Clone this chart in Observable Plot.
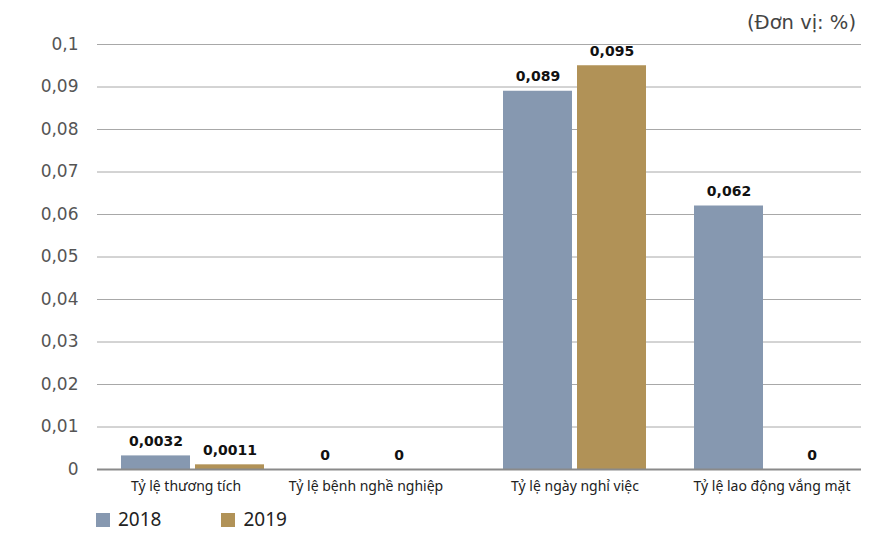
<!DOCTYPE html>
<html>
<head>
<meta charset="utf-8">
<script src="https://cdn.jsdelivr.net/npm/d3@7"></script>
<script src="https://cdn.jsdelivr.net/npm/@observablehq/plot@0.6"></script>
<style>
  body { margin: 0; background: #fff; }
  #wrap { position: relative; width: 887px; height: 533px; overflow: hidden; font-family: "DejaVu Sans", sans-serif; }
  #unit { position: absolute; right: 31px; top: 11px; font-size: 19.5px; line-height: 24px; color: #444; font-family: "DejaVu Sans", sans-serif; }
  #legend { position: absolute; left: 96px; top: 510px; display: flex; align-items: center; font-family: "Noto Sans", sans-serif; font-size: 19px; line-height: 19px; color: #222; }
  #legend .sw { width: 14px; height: 14px; display: inline-block; margin-right: 8px; }
  #legend .item { display: flex; align-items: center; margin-right: 60px; }
</style>
</head>
<body>
<div id="wrap">
  <div id="chart"></div>
  <div id="unit">(Đơn vị: %)</div>
  <div id="legend"></div>
</div>
<script>
const categories = ["Tỷ lệ thương tích", "Tỷ lệ bệnh nghề nghiệp", "Tỷ lệ ngày nghỉ việc", "Tỷ lệ lao động vắng mặt"];
const years = ["2018", "2019"];
const values2018 = [0.0032, 0, 0.089, 0.062];
const values2019 = [0.0011, 0, 0.095, 0];
const labels2018 = ["0,0032", "0", "0,089", "0,062"];
const labels2019 = ["0,0011", "0", "0,095", "0"];
const yTicks = [0, 0.01, 0.02, 0.03, 0.04, 0.05, 0.06, 0.07, 0.08, 0.09, 0.1];
const colors = ["#8698b0", "#b19257"];

const data = [];
categories.forEach((c, i) => {
  data.push({cat: c, year: years[0], value: values2018[i], label: labels2018[i]});
  data.push({cat: c, year: years[1], value: values2019[i], label: labels2019[i]});
});

// label nudges (style only), matching the reference's hand placement of zero labels
const nudge = d => d.cat === categories[1] ? -22 : (d.cat === categories[3] && d.year === years[1] ? 9 : 0);
const textOpts = {fx: "cat", x: "year", y: "value", text: "label", dy: -10, lineAnchor: "bottom", fontWeight: "bold", fontSize: 14, fill: "#111"};

const chart = Plot.plot({
  width: 887,
  height: 500,
  marginLeft: 96,
  marginRight: 26,
  marginTop: 44,
  marginBottom: 31,
  style: {fontFamily: "DejaVu Sans, sans-serif", background: "#fff"},
  fx: {domain: categories, padding: 0, label: null, axis: "bottom", tickSize: 0, tickPadding: 12},
  x: {domain: years, axis: null, paddingInner: 0.067, paddingOuter: 0.307},
  y: {domain: [0, 0.1], ticks: yTicks, tickFormat: d => String(d).replace(".", ","), tickSize: 0, tickPadding: 19, label: null},
  color: {domain: years, range: colors},
  marks: [
    Plot.gridY(yTicks.slice(1), {stroke: "#a8a8a8", strokeOpacity: 1, strokeWidth: 1}),
    Plot.barY(data, {fx: "cat", x: "year", y: "value", fill: "year"}),
    Plot.ruleY([0], {stroke: "#8a8a8a", strokeWidth: 2}),
    Plot.text(data.filter(d => nudge(d) === 0), textOpts),
    Plot.text(data.filter(d => nudge(d) === -22), {...textOpts, dx: -22}),
    Plot.text(data.filter(d => nudge(d) === 9), {...textOpts, dx: 9})
  ]
});

d3.select(chart).selectAll("[aria-label='y-axis tick label'] text").attr("font-size", 17).attr("fill", "#555");
const catNudge = [-7, -18, 0, 6];
d3.select(chart).selectAll("[aria-label='fx-axis tick label'] text")
  .attr("font-size", 14).attr("fill", "#222").attr("font-family", "Noto Sans, sans-serif")
  .attr("dx", (d, i) => catNudge[i]);
document.getElementById("chart").appendChild(chart);

const legend = document.getElementById("legend");
years.forEach((y, i) => {
  const item = document.createElement("div");
  item.className = "item";
  const sw = document.createElement("span");
  sw.className = "sw";
  sw.style.background = colors[i];
  item.appendChild(sw);
  const t = document.createElement("span");
  t.textContent = y;
  item.appendChild(t);
  legend.appendChild(item);
});
</script>
</body>
</html>
